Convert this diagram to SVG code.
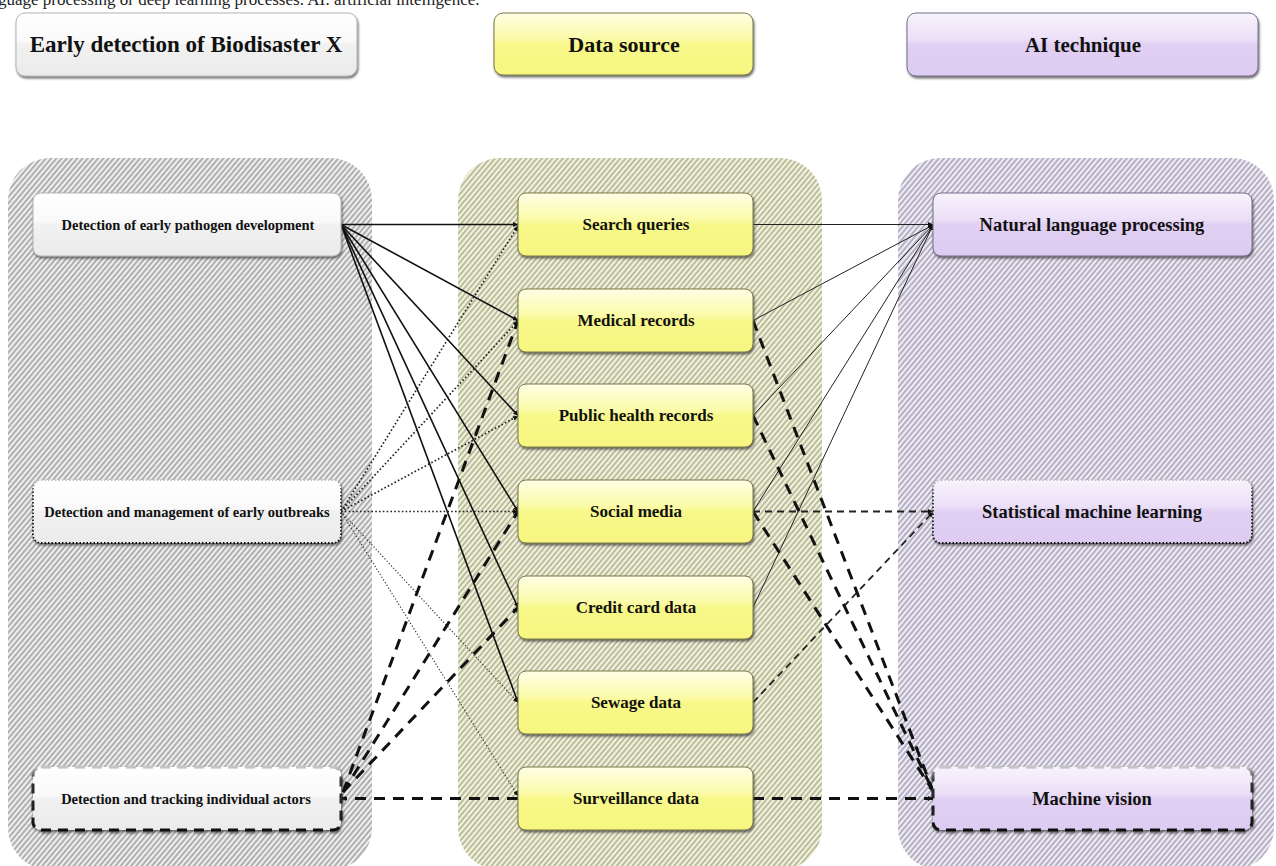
<svg xmlns="http://www.w3.org/2000/svg" width="1276" height="866" viewBox="0 0 1276 866">
<defs>
<style>
.hdr{font-family:"Liberation Serif","Times New Roman",serif;font-weight:bold;font-size:22px;fill:#111;text-anchor:middle}
.lt{font-family:"Liberation Serif","Times New Roman",serif;font-weight:bold;font-size:14.5px;fill:#111;text-anchor:middle}
.mt{font-family:"Liberation Serif","Times New Roman",serif;font-weight:bold;font-size:17px;fill:#111;text-anchor:middle}
.rt{font-family:"Liberation Serif","Times New Roman",serif;font-weight:bold;font-size:18.5px;fill:#111;text-anchor:middle}
.cap{font-family:"Liberation Serif","Times New Roman",serif;font-size:17px;fill:#222}
.solid{stroke:#111;stroke-width:1.6;fill:none}
.thin{stroke:#222;stroke-width:1;fill:none}
.dot{stroke:#222;stroke-width:1.7;stroke-dasharray:1.6 2.2;fill:none}
.dotthin{stroke:#333;stroke-width:1.2;stroke-dasharray:1.2 2;fill:none}
.dash{stroke:#111;stroke-width:3;stroke-dasharray:11 8;fill:none}
.dashm{stroke:#222;stroke-width:1.8;stroke-dasharray:7 5;fill:none}
.gbox{fill:url(#gGray);stroke:#b5b5b5;stroke-width:1;filter:url(#sh)}
.ybox{fill:url(#gYel);stroke:#7a7a4a;stroke-width:1;filter:url(#sh)}
.pbox{fill:url(#gPur);stroke:#77708a;stroke-width:1;filter:url(#sh)}
</style>
<linearGradient id="gGray" x1="0" y1="0" x2="0" y2="1">
<stop offset="0" stop-color="#ffffff"/><stop offset="0.45" stop-color="#f9f9f9"/><stop offset="0.5" stop-color="#f1f1f1"/><stop offset="1" stop-color="#ebebeb"/>
</linearGradient>
<linearGradient id="gYel" x1="0" y1="0" x2="0" y2="1">
<stop offset="0" stop-color="#fefee6"/><stop offset="0.42" stop-color="#fbfba8"/><stop offset="0.5" stop-color="#f8f88a"/><stop offset="1" stop-color="#f6f680"/>
</linearGradient>
<linearGradient id="gPur" x1="0" y1="0" x2="0" y2="1">
<stop offset="0" stop-color="#f8f3fc"/><stop offset="0.42" stop-color="#ebdff7"/><stop offset="0.5" stop-color="#e1d0f3"/><stop offset="1" stop-color="#ddcbf1"/>
</linearGradient>
<linearGradient id="gEdge" x1="0" y1="0" x2="0" y2="1">
<stop offset="0" stop-color="#c8c8c8"/><stop offset="0.2" stop-color="#333"/><stop offset="1" stop-color="#111"/>
</linearGradient>
<filter id="sh" x="-5%" y="-10%" width="110%" height="130%">
<feDropShadow dx="1" dy="2" stdDeviation="1.2" flood-color="#333" flood-opacity="0.7"/>
</filter>
<pattern id="hGray" width="4" height="4" patternUnits="userSpaceOnUse" patternTransform="rotate(40)">
<rect width="4" height="4" fill="#efefef"/><line x1="1" y1="0" x2="1" y2="4" stroke="#707070" stroke-width="1"/>
</pattern>
<pattern id="hYel" width="4" height="4" patternUnits="userSpaceOnUse" patternTransform="rotate(40)">
<rect width="4" height="4" fill="#f3f3da"/><line x1="1" y1="0" x2="1" y2="4" stroke="#86866c" stroke-width="1"/>
</pattern>
<pattern id="hPur" width="4" height="4" patternUnits="userSpaceOnUse" patternTransform="rotate(40)">
<rect width="4" height="4" fill="#f0ecf6"/><line x1="1" y1="0" x2="1" y2="4" stroke="#7a7490" stroke-width="1"/>
</pattern>
<marker id="arr" viewBox="0 0 10 10" refX="10" refY="5" markerWidth="5" markerHeight="5" markerUnits="userSpaceOnUse" orient="auto">
<path d="M0,0 L10,5 L0,10 z" fill="#111"/>
</marker>
</defs>

<rect width="1276" height="866" fill="#ffffff"/>
<text class="cap" x="-2" y="5">guage processing or deep learning processes. AI: artificial intelligence.</text>

<g id="headers">
<g id="h-early"><rect class="gbox" x="16" y="13" width="341" height="63" rx="9"/><text class="hdr" x="186" y="52" style="font-size:23px">Early detection of Biodisaster X</text></g>
<g id="h-data"><rect class="ybox" x="494" y="13" width="259" height="62" rx="9"/><text class="hdr" x="624" y="52">Data source</text></g>
<g id="h-ai"><rect class="pbox" x="907" y="13" width="351" height="63" rx="9"/><text class="hdr" x="1083" y="52" style="font-size:21px">AI technique</text></g>
</g>

<g id="panels">
<rect x="8" y="158" width="364" height="712" rx="42" fill="url(#hGray)"/>
<rect x="458" y="158" width="364" height="712" rx="42" fill="url(#hYel)"/>
<rect x="898" y="158" width="376" height="712" rx="42" fill="url(#hPur)"/>
</g>

<g id="connectors">
<line class="solid" x1="341" y1="224.5" x2="518" y2="224.5" marker-end="url(#arr)"/>
<line class="solid" x1="341" y1="224.5" x2="518" y2="320.5" marker-end="url(#arr)"/>
<line class="solid" x1="341" y1="224.5" x2="518" y2="415.5" marker-end="url(#arr)"/>
<line class="solid" x1="341" y1="224.5" x2="518" y2="511.5" marker-end="url(#arr)"/>
<line class="solid" x1="341" y1="224.5" x2="518" y2="607.5" marker-end="url(#arr)"/>
<line class="solid" x1="341" y1="224.5" x2="518" y2="702.5" marker-end="url(#arr)"/>
<line class="dot" x1="341" y1="511.5" x2="518" y2="226" marker-end="url(#arr)"/>
<line class="dot" x1="341" y1="511.5" x2="518" y2="321" marker-end="url(#arr)"/>
<line class="dot" x1="341" y1="511.5" x2="518" y2="416" marker-end="url(#arr)"/>
<line class="dot" x1="341" y1="511.5" x2="518" y2="511.5" marker-end="url(#arr)"/>
<line class="dotthin" x1="341" y1="511.5" x2="518" y2="702.5" marker-end="url(#arr)"/>
<line class="dotthin" x1="341" y1="511.5" x2="518" y2="796" marker-end="url(#arr)"/>
<line class="dash" x1="343" y1="792" x2="518" y2="321" marker-end="url(#arr)"/>
<line class="dash" x1="343" y1="792" x2="518" y2="511.5" marker-end="url(#arr)"/>
<line class="dash" x1="343" y1="792" x2="518" y2="607.5" marker-end="url(#arr)"/>
<line class="dash" x1="518" y1="798.5" x2="341" y2="798.5" marker-end="url(#arr)"/>
<line class="thin" x1="753" y1="224.5" x2="933" y2="224.5" marker-end="url(#arr)"/>
<line class="thin" x1="753" y1="320.5" x2="933" y2="225" marker-end="url(#arr)"/>
<line class="thin" x1="753" y1="415.5" x2="933" y2="225" marker-end="url(#arr)"/>
<line class="thin" x1="753" y1="511.5" x2="933" y2="225" marker-end="url(#arr)"/>
<line class="thin" x1="753" y1="607.5" x2="933" y2="225" marker-end="url(#arr)"/>
<line class="dashm" x1="753" y1="511.5" x2="933" y2="511.5" marker-end="url(#arr)"/>
<line class="dashm" x1="753" y1="702.5" x2="933" y2="512" marker-end="url(#arr)"/>
<line class="dash" x1="753" y1="320.5" x2="933" y2="791" marker-end="url(#arr)"/>
<line class="dash" x1="753" y1="415.5" x2="933" y2="791" marker-end="url(#arr)"/>
<line class="dash" x1="753" y1="511.5" x2="933" y2="791" marker-end="url(#arr)"/>
<line class="dash" x1="753" y1="798.5" x2="933" y2="798.5" marker-end="url(#arr)"/>
</g>

<g id="n-pathogen"><rect class="gbox" x="33" y="193" width="308" height="63" rx="8"/><text class="lt" x="188" y="229.5">Detection of early pathogen development</text></g>
<g id="n-outbreaks"><rect class="gbox" x="33" y="480" width="308" height="63" rx="8" style="stroke:url(#gEdge);stroke-width:1.8;stroke-dasharray:1.5 2"/><text class="lt" x="187" y="516.5">Detection and management of early outbreaks</text></g>
<g id="n-actors"><rect class="gbox" x="33" y="767" width="308" height="63" rx="8" style="stroke:url(#gEdge);stroke-width:3;stroke-dasharray:10 7"/><text class="lt" x="186" y="803.5">Detection and tracking individual actors</text></g>

<g id="n-search"><rect class="ybox" x="518" y="193" width="235" height="63" rx="8"/><text class="mt" x="636" y="230">Search queries</text></g>
<g id="n-medical"><rect class="ybox" x="518" y="289" width="235" height="63" rx="8"/><text class="mt" x="636" y="326">Medical records</text></g>
<g id="n-public"><rect class="ybox" x="518" y="384" width="235" height="63" rx="8"/><text class="mt" x="636" y="421">Public health records</text></g>
<g id="n-social"><rect class="ybox" x="518" y="480" width="235" height="63" rx="8"/><text class="mt" x="636" y="517">Social media</text></g>
<g id="n-credit"><rect class="ybox" x="518" y="576" width="235" height="63" rx="8"/><text class="mt" x="636" y="613">Credit card data</text></g>
<g id="n-sewage"><rect class="ybox" x="518" y="671" width="235" height="63" rx="8"/><text class="mt" x="636" y="708">Sewage data</text></g>
<g id="n-surveillance"><rect class="ybox" x="518" y="767" width="235" height="63" rx="8"/><text class="mt" x="636" y="804">Surveillance data</text></g>

<g id="n-nlp"><rect class="pbox" x="933" y="193" width="319" height="63" rx="8"/><text class="rt" x="1092" y="230.5">Natural language processing</text></g>
<g id="n-sml"><rect class="pbox" x="933" y="480" width="319" height="63" rx="8" style="stroke:url(#gEdge);stroke-width:1.8;stroke-dasharray:1.5 2"/><text class="rt" x="1092" y="517.5">Statistical machine learning</text></g>
<g id="n-mv"><rect class="pbox" x="933" y="767" width="319" height="63" rx="8" style="stroke:url(#gEdge);stroke-width:3;stroke-dasharray:10 7"/><text class="rt" x="1092" y="804.5">Machine vision</text></g>
</svg>
